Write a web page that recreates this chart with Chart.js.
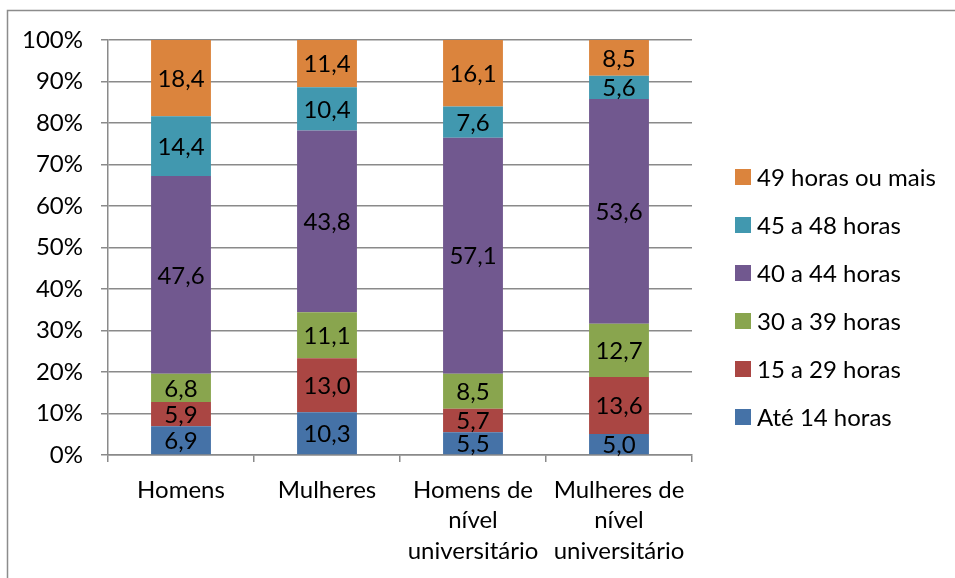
<!DOCTYPE html>
<html>
<head>
<meta charset="utf-8">
<script src="https://cdn.jsdelivr.net/npm/chart.js@4"></script>
<style>
  html, body { margin: 0; padding: 0; background: #fff; overflow: hidden; }
  #wrap { position: relative; width: 955px; height: 578px; }
</style>
</head>
<body>
<div id="wrap"><canvas id="c" width="955" height="578"></canvas></div>
<script>
// Jornada semanal de trabalho por grupo (%), barras empilhadas a 100%
const categories = ['Homens', 'Mulheres', ['Homens de', 'nível', 'universitário'], ['Mulheres de', 'nível', 'universitário']];
const seriesNames = ['Até 14 horas', '15 a 29 horas', '30 a 39 horas', '40 a 44 horas', '45 a 48 horas', '49 horas ou mais'];
const ate14horas = [6.9, 10.3, 5.5, 5.0];
const de15a29 = [5.9, 13.0, 5.7, 13.6];
const de30a39 = [6.8, 11.1, 8.5, 12.7];
const de40a44 = [47.6, 43.8, 57.1, 53.6];
const de45a48 = [14.4, 10.4, 7.6, 5.6];
const de49mais = [18.4, 11.4, 16.1, 8.5];
const yTickValues = [0, 10, 20, 30, 40, 50, 60, 70, 80, 90, 100];

const seriesValues = [ate14horas, de15a29, de30a39, de40a44, de45a48, de49mais];
const seriesColors = ['#4572A7', '#AA4643', '#89A54E', '#71588F', '#4198AF', '#DB843D'];

const FONT = 'Lato, "Open Sans", sans-serif';
const FONT_SIZE = 24;
const GRID = '#8a8a8a';

// each column is scaled to 100%, labels keep the original values
const totals = categories.map((_, i) => seriesValues.reduce((s, arr) => s + arr[i], 0));
const datasets = seriesNames.map((name, k) => ({
  label: name,
  data: seriesValues[k].map((v, i) => v / totals[i] * 100),
  rawValues: seriesValues[k],
  backgroundColor: seriesColors[k],
  borderWidth: 0,
  categoryPercentage: 1,
  barPercentage: 0.41
}));

const fmt = v => v.toFixed(1).replace('.', ',');

const frame = {
  id: 'frame',
  beforeDraw(chart) {
    const ctx = chart.ctx;
    ctx.save();
    ctx.strokeStyle = '#8c8c8c';
    ctx.lineWidth = 1.5;
    ctx.beginPath();
    ctx.moveTo(7.5, 578);
    ctx.lineTo(7.5, 10.5);
    ctx.lineTo(955, 10.5);
    ctx.stroke();
    ctx.restore();
  }
};

const valueLabels = {
  id: 'valueLabels',
  afterDatasetsDraw(chart) {
    const ctx = chart.ctx;
    ctx.save();
    ctx.font = FONT_SIZE + 'px ' + FONT;
    ctx.fillStyle = '#000';
    ctx.textAlign = 'center';
    ctx.textBaseline = 'middle';
    chart.data.datasets.forEach((ds, k) => {
      const meta = chart.getDatasetMeta(k);
      meta.data.forEach((el, i) => {
        const p = el.getProps(['x', 'y', 'base'], true);
        ctx.fillText(fmt(ds.rawValues[i]), p.x, (p.y + p.base) / 2 + 1);
      });
    });
    ctx.restore();
  }
};

const sideLegend = {
  id: 'sideLegend',
  afterDraw(chart) {
    const ctx = chart.ctx;
    const items = chart.data.datasets.slice().reverse();
    ctx.save();
    ctx.font = FONT_SIZE + 'px ' + FONT;
    ctx.textAlign = 'left';
    ctx.textBaseline = 'middle';
    items.forEach((ds, j) => {
      const cy = 177 + j * 48;
      ctx.fillStyle = ds.backgroundColor;
      ctx.fillRect(735, cy - 8, 16, 16);
      ctx.fillStyle = '#000';
      ctx.fillText(ds.label, 757, cy + 1);
    });
    ctx.restore();
  }
};

new Chart(document.getElementById('c'), {
  type: 'bar',
  data: { labels: categories, datasets },
  options: {
    responsive: false,
    animation: false,
    devicePixelRatio: 1,
    layout: { padding: { left: 0, top: 40, right: 263, bottom: 0 } },
    plugins: {
      legend: { display: false },
      tooltip: { enabled: false }
    },
    scales: {
      x: {
        stacked: true,
        grid: { drawOnChartArea: false, offset: true, tickLength: 7, color: GRID, lineWidth: 1.5 },
        border: { color: GRID, width: 1.5 },
        ticks: {
          color: '#000', padding: 13, maxRotation: 0, autoSkip: false,
          font: { family: FONT, size: FONT_SIZE, lineHeight: 1.27 }
        },
        afterFit(scale) { scale.height = 578 - 455; }
      },
      y: {
        stacked: true,
        min: 0,
        max: 100,
        afterBuildTicks(scale) { scale.ticks = yTickValues.map(v => ({ value: v })); },
        grid: { color: GRID, lineWidth: 1.5, tickLength: 7 },
        border: { color: GRID, width: 1.5 },
        ticks: {
          color: '#000', padding: 18,
          font: { family: FONT, size: FONT_SIZE },
          callback: v => v + '%'
        },
        afterFit(scale) { scale.width = 108; }
      }
    }
  },
  plugins: [frame, valueLabels, sideLegend]
});
</script>
</body>
</html>
